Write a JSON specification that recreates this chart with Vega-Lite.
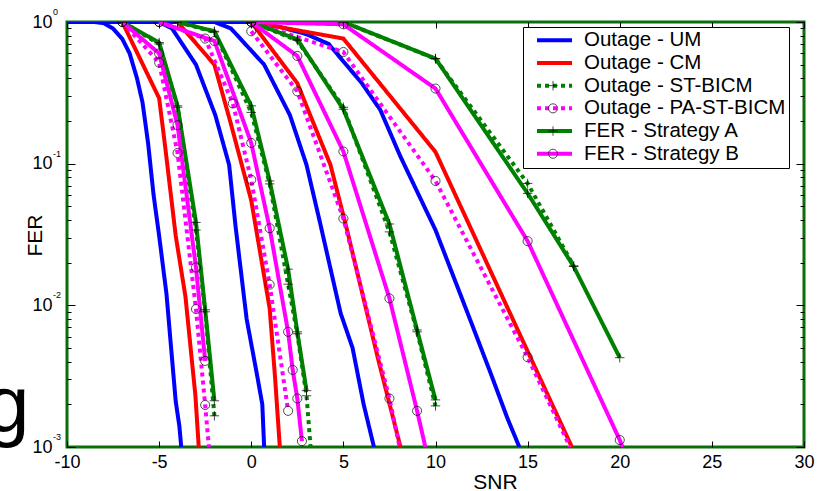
{
  "$schema": "https://vega.github.io/schema/vega-lite/v6.json",
  "autosize": {"type": "none"},
  "width": 737,
  "height": 425,
  "padding": {"left": 67, "top": 22, "right": 21, "bottom": 44},
  "background": "white",
  "config": {
    "view": {"stroke": "#0a6e0a", "strokeWidth": 3},
    "font": "Liberation Sans"
  },
  "datasets": {
    "curves": [
      {"s": "Outage - UM", "g": 1, "x": -10, "y": 1},
      {"s": "Outage - UM", "g": 1, "x": -8.5, "y": 1},
      {"s": "Outage - UM", "g": 1, "x": -8, "y": 0.98},
      {"s": "Outage - UM", "g": 1, "x": -7.5, "y": 0.9},
      {"s": "Outage - UM", "g": 1, "x": -7, "y": 0.76},
      {"s": "Outage - UM", "g": 1, "x": -6.6, "y": 0.6},
      {"s": "Outage - UM", "g": 1, "x": -6.2, "y": 0.4},
      {"s": "Outage - UM", "g": 1, "x": -5.9, "y": 0.27},
      {"s": "Outage - UM", "g": 1, "x": -5.6, "y": 0.14},
      {"s": "Outage - UM", "g": 1, "x": -5.3, "y": 0.06},
      {"s": "Outage - UM", "g": 1, "x": -5, "y": 0.031},
      {"s": "Outage - UM", "g": 1, "x": -4.6, "y": 0.012},
      {"s": "Outage - UM", "g": 1, "x": -4.1, "y": 0.0021},
      {"s": "Outage - UM", "g": 1, "x": -3.9, "y": 0.0014},
      {"s": "Outage - UM", "g": 1, "x": -3.8, "y": 0.001},
      {"s": "Outage - UM", "g": 2, "x": -10, "y": 1},
      {"s": "Outage - UM", "g": 2, "x": -5, "y": 1},
      {"s": "Outage - UM", "g": 2, "x": -4.3, "y": 0.9},
      {"s": "Outage - UM", "g": 2, "x": -3, "y": 0.5},
      {"s": "Outage - UM", "g": 2, "x": -1.95, "y": 0.22},
      {"s": "Outage - UM", "g": 2, "x": -1.2, "y": 0.098},
      {"s": "Outage - UM", "g": 2, "x": -0.85, "y": 0.036},
      {"s": "Outage - UM", "g": 2, "x": -0.25, "y": 0.008},
      {"s": "Outage - UM", "g": 2, "x": 0.3, "y": 0.0033},
      {"s": "Outage - UM", "g": 2, "x": 0.6, "y": 0.002},
      {"s": "Outage - UM", "g": 2, "x": 0.7, "y": 0.001},
      {"s": "Outage - UM", "g": 3, "x": -10, "y": 1},
      {"s": "Outage - UM", "g": 3, "x": -2, "y": 1},
      {"s": "Outage - UM", "g": 3, "x": -1.1, "y": 0.9},
      {"s": "Outage - UM", "g": 3, "x": 0.7, "y": 0.5},
      {"s": "Outage - UM", "g": 3, "x": 2.1, "y": 0.22},
      {"s": "Outage - UM", "g": 3, "x": 3.0, "y": 0.098},
      {"s": "Outage - UM", "g": 3, "x": 3.7, "y": 0.04},
      {"s": "Outage - UM", "g": 3, "x": 4.85, "y": 0.0088},
      {"s": "Outage - UM", "g": 3, "x": 5.5, "y": 0.005},
      {"s": "Outage - UM", "g": 3, "x": 6.1, "y": 0.002},
      {"s": "Outage - UM", "g": 3, "x": 6.66, "y": 0.001},
      {"s": "Outage - UM", "g": 4, "x": -10, "y": 1},
      {"s": "Outage - UM", "g": 4, "x": 0, "y": 1},
      {"s": "Outage - UM", "g": 4, "x": 1.6, "y": 0.92},
      {"s": "Outage - UM", "g": 4, "x": 3, "y": 0.82},
      {"s": "Outage - UM", "g": 4, "x": 4.2, "y": 0.7},
      {"s": "Outage - UM", "g": 4, "x": 6, "y": 0.37},
      {"s": "Outage - UM", "g": 4, "x": 7, "y": 0.24},
      {"s": "Outage - UM", "g": 4, "x": 8.1, "y": 0.112},
      {"s": "Outage - UM", "g": 4, "x": 10, "y": 0.034},
      {"s": "Outage - UM", "g": 4, "x": 11.9, "y": 0.0078},
      {"s": "Outage - UM", "g": 4, "x": 13, "y": 0.0033},
      {"s": "Outage - UM", "g": 4, "x": 13.9, "y": 0.0016},
      {"s": "Outage - UM", "g": 4, "x": 14.55, "y": 0.001},

      {"s": "Outage - CM", "g": 1, "x": -7, "y": 1},
      {"s": "Outage - CM", "g": 1, "x": -5, "y": 0.29},
      {"s": "Outage - CM", "g": 1, "x": -4.66, "y": 0.128},
      {"s": "Outage - CM", "g": 1, "x": -4.1, "y": 0.031},
      {"s": "Outage - CM", "g": 1, "x": -3.57, "y": 0.0115},
      {"s": "Outage - CM", "g": 1, "x": -3.03, "y": 0.0023},
      {"s": "Outage - CM", "g": 1, "x": -2.85, "y": 0.001},
      {"s": "Outage - CM", "g": 2, "x": -4, "y": 1},
      {"s": "Outage - CM", "g": 2, "x": -2, "y": 0.5},
      {"s": "Outage - CM", "g": 2, "x": -1.1, "y": 0.19},
      {"s": "Outage - CM", "g": 2, "x": 0, "y": 0.055},
      {"s": "Outage - CM", "g": 2, "x": 1, "y": 0.0095},
      {"s": "Outage - CM", "g": 2, "x": 1.3, "y": 0.003},
      {"s": "Outage - CM", "g": 2, "x": 1.55, "y": 0.001},
      {"s": "Outage - CM", "g": 3, "x": 0, "y": 1},
      {"s": "Outage - CM", "g": 3, "x": 2.5, "y": 0.37},
      {"s": "Outage - CM", "g": 3, "x": 3.2, "y": 0.22},
      {"s": "Outage - CM", "g": 3, "x": 4.3, "y": 0.098},
      {"s": "Outage - CM", "g": 3, "x": 5.0, "y": 0.043},
      {"s": "Outage - CM", "g": 3, "x": 5.2, "y": 0.034},
      {"s": "Outage - CM", "g": 3, "x": 6.9, "y": 0.0041},
      {"s": "Outage - CM", "g": 3, "x": 8.1, "y": 0.001},
      {"s": "Outage - CM", "g": 4, "x": 0, "y": 1},
      {"s": "Outage - CM", "g": 4, "x": 5, "y": 0.764},
      {"s": "Outage - CM", "g": 4, "x": 10, "y": 0.121},
      {"s": "Outage - CM", "g": 4, "x": 17.4, "y": 0.001},

      {"s": "Outage - ST-BICM", "g": 1, "x": -7, "y": 1},
      {"s": "Outage - ST-BICM", "g": 1, "x": -5, "y": 0.7},
      {"s": "Outage - ST-BICM", "g": 1, "x": -4, "y": 0.25},
      {"s": "Outage - ST-BICM", "g": 1, "x": -3, "y": 0.034},
      {"s": "Outage - ST-BICM", "g": 1, "x": -2.5, "y": 0.009},
      {"s": "Outage - ST-BICM", "g": 1, "x": -2, "y": 0.00166},
      {"s": "Outage - ST-BICM", "g": 2, "x": -4, "y": 1},
      {"s": "Outage - ST-BICM", "g": 2, "x": -2, "y": 0.85},
      {"s": "Outage - ST-BICM", "g": 2, "x": 0, "y": 0.23},
      {"s": "Outage - ST-BICM", "g": 2, "x": 1, "y": 0.072},
      {"s": "Outage - ST-BICM", "g": 2, "x": 2, "y": 0.0141},
      {"s": "Outage - ST-BICM", "g": 2, "x": 2.5, "y": 0.0063},
      {"s": "Outage - ST-BICM", "g": 2, "x": 3, "y": 0.0023},
      {"s": "Outage - ST-BICM", "g": 2, "x": 3.22, "y": 0.001},
      {"s": "Outage - ST-BICM", "g": 3, "x": 0, "y": 1},
      {"s": "Outage - ST-BICM", "g": 3, "x": 2.5, "y": 0.74},
      {"s": "Outage - ST-BICM", "g": 3, "x": 5, "y": 0.25},
      {"s": "Outage - ST-BICM", "g": 3, "x": 7.5, "y": 0.033},
      {"s": "Outage - ST-BICM", "g": 3, "x": 9, "y": 0.0065},
      {"s": "Outage - ST-BICM", "g": 3, "x": 10, "y": 0.00195},
      {"s": "Outage - ST-BICM", "g": 4, "x": 0, "y": 1},
      {"s": "Outage - ST-BICM", "g": 4, "x": 5, "y": 1},
      {"s": "Outage - ST-BICM", "g": 4, "x": 10, "y": 0.55},
      {"s": "Outage - ST-BICM", "g": 4, "x": 15, "y": 0.0725},
      {"s": "Outage - ST-BICM", "g": 4, "x": 17.5, "y": 0.019},

      {"s": "Outage - PA-ST-BICM", "g": 1, "x": -7, "y": 1},
      {"s": "Outage - PA-ST-BICM", "g": 1, "x": -5, "y": 0.517},
      {"s": "Outage - PA-ST-BICM", "g": 1, "x": -4, "y": 0.119},
      {"s": "Outage - PA-ST-BICM", "g": 1, "x": -3, "y": 0.0094},
      {"s": "Outage - PA-ST-BICM", "g": 1, "x": -2.5, "y": 0.00198},
      {"s": "Outage - PA-ST-BICM", "g": 1, "x": -2.3, "y": 0.001},
      {"s": "Outage - PA-ST-BICM", "g": 2, "x": -5, "y": 1},
      {"s": "Outage - PA-ST-BICM", "g": 2, "x": -2.5, "y": 0.764},
      {"s": "Outage - PA-ST-BICM", "g": 2, "x": -1, "y": 0.266},
      {"s": "Outage - PA-ST-BICM", "g": 2, "x": 0, "y": 0.077},
      {"s": "Outage - PA-ST-BICM", "g": 2, "x": 1, "y": 0.014},
      {"s": "Outage - PA-ST-BICM", "g": 2, "x": 2, "y": 0.0018},
      {"s": "Outage - PA-ST-BICM", "g": 3, "x": 0, "y": 0.86},
      {"s": "Outage - PA-ST-BICM", "g": 3, "x": 2.5, "y": 0.324},
      {"s": "Outage - PA-ST-BICM", "g": 3, "x": 5, "y": 0.041},
      {"s": "Outage - PA-ST-BICM", "g": 3, "x": 7.5, "y": 0.0022},
      {"s": "Outage - PA-ST-BICM", "g": 3, "x": 8.05, "y": 0.001},
      {"s": "Outage - PA-ST-BICM", "g": 4, "x": 0, "y": 1},
      {"s": "Outage - PA-ST-BICM", "g": 4, "x": 5, "y": 0.614},
      {"s": "Outage - PA-ST-BICM", "g": 4, "x": 10, "y": 0.0755},
      {"s": "Outage - PA-ST-BICM", "g": 4, "x": 15, "y": 0.0043},
      {"s": "Outage - PA-ST-BICM", "g": 4, "x": 17.3, "y": 0.001},

      {"s": "FER - Strategy A", "g": 1, "x": -7, "y": 1},
      {"s": "FER - Strategy A", "g": 1, "x": -5, "y": 0.716},
      {"s": "FER - Strategy A", "g": 1, "x": -4, "y": 0.256},
      {"s": "FER - Strategy A", "g": 1, "x": -3, "y": 0.0385},
      {"s": "FER - Strategy A", "g": 1, "x": -2.5, "y": 0.0093},
      {"s": "FER - Strategy A", "g": 1, "x": -2, "y": 0.00212},
      {"s": "FER - Strategy A", "g": 2, "x": -4, "y": 1},
      {"s": "FER - Strategy A", "g": 2, "x": -2, "y": 0.86},
      {"s": "FER - Strategy A", "g": 2, "x": 0, "y": 0.256},
      {"s": "FER - Strategy A", "g": 2, "x": 1, "y": 0.0755},
      {"s": "FER - Strategy A", "g": 2, "x": 2, "y": 0.018},
      {"s": "FER - Strategy A", "g": 2, "x": 2.5, "y": 0.0065},
      {"s": "FER - Strategy A", "g": 2, "x": 3, "y": 0.0025},
      {"s": "FER - Strategy A", "g": 3, "x": 0, "y": 1},
      {"s": "FER - Strategy A", "g": 3, "x": 2.5, "y": 0.755},
      {"s": "FER - Strategy A", "g": 3, "x": 5, "y": 0.242},
      {"s": "FER - Strategy A", "g": 3, "x": 7.5, "y": 0.0375},
      {"s": "FER - Strategy A", "g": 3, "x": 9, "y": 0.0067},
      {"s": "FER - Strategy A", "g": 3, "x": 10, "y": 0.00215},
      {"s": "FER - Strategy A", "g": 4, "x": 0, "y": 1},
      {"s": "FER - Strategy A", "g": 4, "x": 5, "y": 1},
      {"s": "FER - Strategy A", "g": 4, "x": 10, "y": 0.552},
      {"s": "FER - Strategy A", "g": 4, "x": 15, "y": 0.0617},
      {"s": "FER - Strategy A", "g": 4, "x": 17.5, "y": 0.0188},
      {"s": "FER - Strategy A", "g": 4, "x": 20, "y": 0.00427},

      {"s": "FER - Strategy B", "g": 1, "x": -7, "y": 1},
      {"s": "FER - Strategy B", "g": 1, "x": -5, "y": 0.6},
      {"s": "FER - Strategy B", "g": 1, "x": -4, "y": 0.187},
      {"s": "FER - Strategy B", "g": 1, "x": -3, "y": 0.0185},
      {"s": "FER - Strategy B", "g": 1, "x": -2.5, "y": 0.00405},
      {"s": "FER - Strategy B", "g": 2, "x": -5, "y": 1},
      {"s": "FER - Strategy B", "g": 2, "x": -2, "y": 0.735},
      {"s": "FER - Strategy B", "g": 2, "x": 0, "y": 0.14},
      {"s": "FER - Strategy B", "g": 2, "x": 1, "y": 0.035},
      {"s": "FER - Strategy B", "g": 2, "x": 2, "y": 0.0065},
      {"s": "FER - Strategy B", "g": 2, "x": 2.25, "y": 0.0035},
      {"s": "FER - Strategy B", "g": 2, "x": 2.5, "y": 0.0022},
      {"s": "FER - Strategy B", "g": 2, "x": 2.75, "y": 0.0011},
      {"s": "FER - Strategy B", "g": 3, "x": 0, "y": 1},
      {"s": "FER - Strategy B", "g": 3, "x": 2.5, "y": 0.576},
      {"s": "FER - Strategy B", "g": 3, "x": 5, "y": 0.122},
      {"s": "FER - Strategy B", "g": 3, "x": 7.5, "y": 0.0112},
      {"s": "FER - Strategy B", "g": 3, "x": 9, "y": 0.0018},
      {"s": "FER - Strategy B", "g": 3, "x": 9.45, "y": 0.001},
      {"s": "FER - Strategy B", "g": 4, "x": 0, "y": 1},
      {"s": "FER - Strategy B", "g": 4, "x": 5, "y": 0.963},
      {"s": "FER - Strategy B", "g": 4, "x": 10, "y": 0.339},
      {"s": "FER - Strategy B", "g": 4, "x": 15, "y": 0.0284},
      {"s": "FER - Strategy B", "g": 4, "x": 20, "y": 0.00112},
      {"s": "FER - Strategy B", "g": 4, "x": 20.15, "y": 0.001}
    ],
    "exps": [
      {"e": "0", "v": 1},
      {"e": "-1", "v": 0.1},
      {"e": "-2", "v": 0.01},
      {"e": "-3", "v": 0.001}
    ],
    "stray": [
      {"t": "g", "x": -10, "y": 0.001}
    ]
  },
  "resolve": {"axis": {"x": "independent", "y": "independent"}},
  "layer": [
    {
      "data": {"name": "curves"},
      "mark": {"type": "line", "strokeWidth": 4, "clip": true},
      "encoding": {
        "x": {
          "field": "x", "type": "quantitative",
          "scale": {"domain": [-10, 30], "nice": false, "zero": false},
          "axis": {
            "orient": "bottom",
            "values": [-10, -5, 0, 5, 10, 15, 20, 25, 30],
            "labelExpr": "'' + datum.value",
            "domain": false, "grid": false,
            "ticks": true, "tickSize": -6, "tickColor": "black", "tickWidth": 1,
            "labelFontSize": 18, "labelColor": "black", "labelPadding": 12,
            "labelFlush": false, "labelOverlap": false,
            "title": "SNR", "titleFontSize": 21, "titleFontWeight": "normal", "titleColor": "black",
            "titleX": 428, "titleY": 41, "titleBaseline": "alphabetic", "titleAlign": "center"
          }
        },
        "y": {
          "field": "y", "type": "quantitative",
          "scale": {"type": "log", "domain": [0.001, 1], "nice": false},
          "axis": {
            "orient": "left",
            "values": [0.001, 0.002, 0.003, 0.004, 0.005, 0.006, 0.007, 0.008, 0.009, 0.01, 0.02, 0.03, 0.04, 0.05, 0.06, 0.07, 0.08, 0.09, 0.1, 0.2, 0.3, 0.4, 0.5, 0.6, 0.7, 0.8, 0.9, 1],
            "labelExpr": "indexof([1, 0.1, 0.01, 0.001], datum.value) >= 0 ? '10' : ''",
            "domain": false, "grid": false,
            "tickColor": "black", "tickWidth": 1,
            "tickSize": {"condition": {"test": "indexof([1, 0.1, 0.01, 0.001], datum.value) >= 0", "value": -8}, "value": -4},
            "labelFontSize": 18, "labelColor": "black", "labelPadding": 23,
            "labelOverlap": false, "labelFlush": false,
            "title": "FER", "titleFontSize": 21, "titleFontWeight": "normal", "titleColor": "black",
            "titleX": -26, "titleY": 213, "titleBaseline": "alphabetic", "titleAlign": "center", "titleAngle": -90
          }
        },
        "color": {
          "field": "s", "type": "nominal",
          "scale": {
            "domain": ["Outage - UM", "Outage - CM", "Outage - ST-BICM", "Outage - PA-ST-BICM", "FER - Strategy A", "FER - Strategy B"],
            "range": ["#0000ff", "#ff0000", "#008000", "#ff00ff", "#008000", "#ff00ff"]
          },
          "legend": {
            "title": null, "orient": "none", "legendX": 456, "legendY": 5,
            "symbolType": "stroke", "symbolSize": 1225, "symbolStrokeWidth": 4,
            "labelFontSize": 20.5, "labelColor": "black", "labelOffset": 10, "labelLimit": 400,
            "padding": 3, "symbolOffset": 9, "rowPadding": 1.7, "clipHeight": 20.5,
            "strokeColor": "black", "fillColor": "white"
          }
        },
        "strokeDash": {
          "field": "s", "type": "nominal",
          "scale": {
            "domain": ["Outage - UM", "Outage - CM", "Outage - ST-BICM", "Outage - PA-ST-BICM", "FER - Strategy A", "FER - Strategy B"],
            "range": [[1, 0], [1, 0], [4, 4], [4, 4], [1, 0], [1, 0]]
          },
          "legend": {
            "title": null, "orient": "none", "legendX": 456, "legendY": 5,
            "symbolType": "stroke", "symbolSize": 1225, "symbolStrokeWidth": 4,
            "labelFontSize": 20.5, "labelColor": "black", "labelOffset": 10, "labelLimit": 400,
            "padding": 3, "symbolOffset": 9, "rowPadding": 1.7, "clipHeight": 20.5,
            "strokeColor": "black", "fillColor": "white"
          }
        },
        "detail": {"field": "g"}
      }
    },
    {
      "data": {"name": "curves"},
      "transform": [
        {"filter": "datum.s != 'Outage - UM' && datum.s != 'Outage - CM' && datum.y > 0.00105"}
      ],
      "mark": {"type": "point", "filled": false, "color": "black", "strokeWidth": 1, "size": 1225, "clip": true},
      "encoding": {
        "x": {
          "field": "x", "type": "quantitative",
          "scale": {"domain": [-10, 30], "nice": false, "zero": false},
          "axis": {
            "orient": "top", "values": [-10, -5, 0, 5, 10, 15, 20, 25, 30],
            "labels": false, "domain": false, "grid": false, "title": null,
            "tickSize": -6, "tickColor": "black", "tickWidth": 1
          }
        },
        "y": {
          "field": "y", "type": "quantitative",
          "scale": {"type": "log", "domain": [0.001, 1], "nice": false},
          "axis": {
            "orient": "right",
            "values": [0.001, 0.002, 0.003, 0.004, 0.005, 0.006, 0.007, 0.008, 0.009, 0.01, 0.02, 0.03, 0.04, 0.05, 0.06, 0.07, 0.08, 0.09, 0.1, 0.2, 0.3, 0.4, 0.5, 0.6, 0.7, 0.8, 0.9, 1],
            "labels": false, "domain": false, "grid": false, "title": null,
            "tickColor": "black", "tickWidth": 1,
            "tickSize": {"condition": {"test": "indexof([1, 0.1, 0.01, 0.001], datum.value) >= 0", "value": -8}, "value": -4}
          }
        },
        "shape": {
          "field": "s", "type": "nominal",
          "scale": {
            "domain": ["FER - Strategy B", "FER - Strategy A", "Outage - PA-ST-BICM", "Outage - ST-BICM", "Outage - CM", "Outage - UM"],
            "range": [
              "M0.26,0A0.26,0.26 0 1 1 -0.26,0A0.26,0.26 0 1 1 0.26,0Z",
              "M-0.27,0L0.27,0M0,-0.27L0,0.27",
              "M0.26,0A0.26,0.26 0 1 1 -0.26,0A0.26,0.26 0 1 1 0.26,0Z",
              "M-0.27,0L0.27,0M0,-0.27L0,0.27",
              "M0,0", "M0,0"
            ]
          },
          "legend": {
            "values": ["Outage - UM", "Outage - CM", "Outage - ST-BICM", "Outage - PA-ST-BICM", "FER - Strategy A", "FER - Strategy B"],
            "title": null, "orient": "none", "legendX": 456, "legendY": 5,
            "symbolSize": 1225, "symbolStrokeColor": "black", "symbolFillColor": "transparent", "symbolStrokeWidth": 1,
            "labelFontSize": 20.5, "labelColor": "transparent", "labelOffset": 10, "labelLimit": 400,
            "padding": 3, "symbolOffset": 9, "rowPadding": 1.7, "clipHeight": 20.5
          }
        }
      }
    },
    {
      "data": {"name": "exps"},
      "mark": {"type": "text", "align": "left", "baseline": "middle", "dx": -14, "dy": -10, "fontSize": 9, "color": "black"},
      "encoding": {
        "x": {"datum": -10, "type": "quantitative", "scale": {"domain": [-10, 30], "nice": false, "zero": false}, "axis": null},
        "y": {"field": "v", "type": "quantitative", "scale": {"type": "log", "domain": [0.001, 1], "nice": false}, "axis": null},
        "text": {"field": "e"}
      }
    },
    {
      "data": {"name": "stray"},
      "mark": {"type": "text", "align": "left", "baseline": "alphabetic", "dx": -82, "dy": -16, "fontSize": 80, "color": "black"},
      "encoding": {
        "x": {"field": "x", "type": "quantitative", "scale": {"domain": [-10, 30], "nice": false, "zero": false}, "axis": null},
        "y": {"field": "y", "type": "quantitative", "scale": {"type": "log", "domain": [0.001, 1], "nice": false}, "axis": null},
        "text": {"field": "t"}
      }
    }
  ]
}
